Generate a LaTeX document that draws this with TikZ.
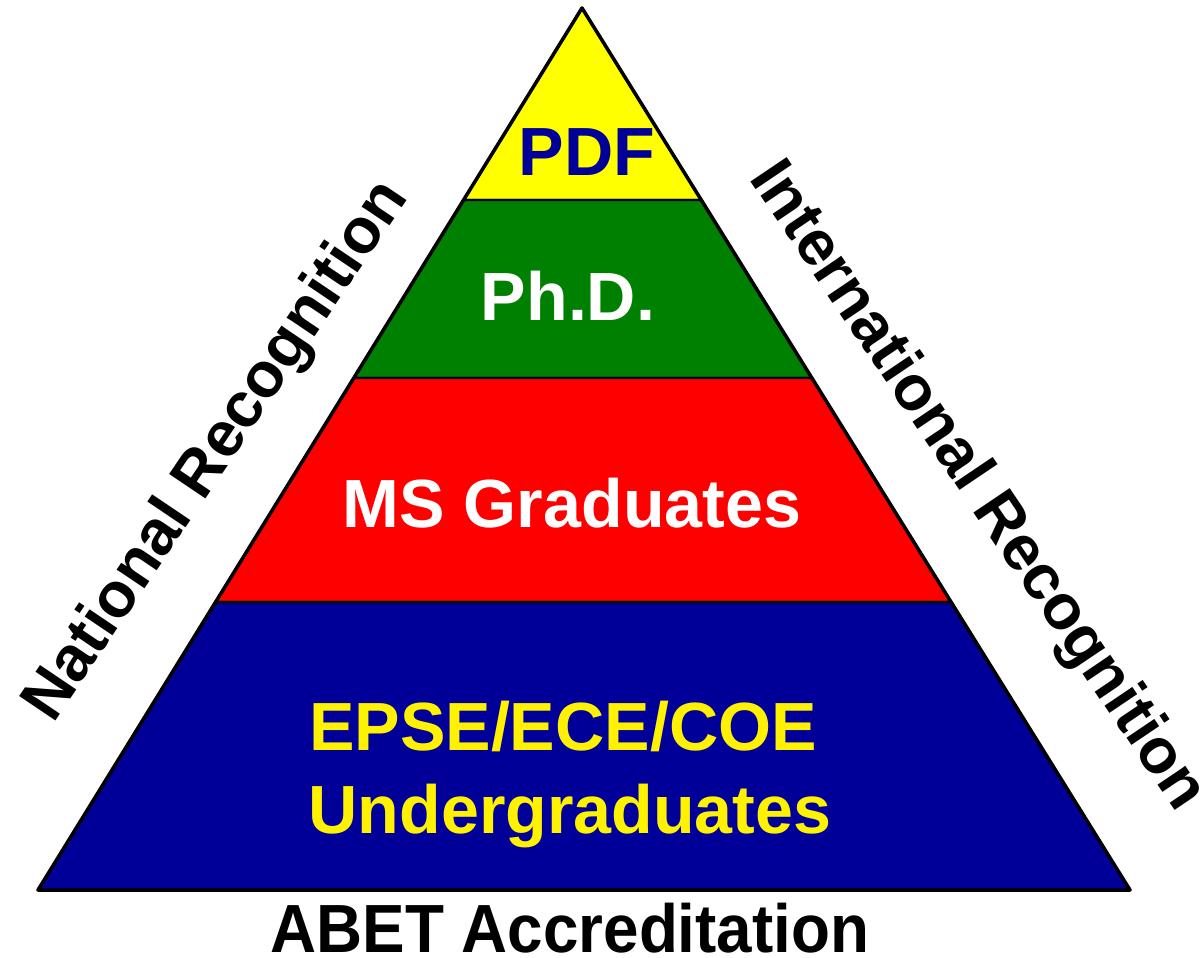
\documentclass[tikz,border=0pt]{standalone}
\usepackage{fontspec}
\setmainfont{Liberation Sans}
\usetikzlibrary{calc}
\definecolor{pdfyellow}{RGB}{255,255,0}
\definecolor{phdgreen}{RGB}{0,128,0}
\definecolor{msred}{RGB}{255,0,0}
\definecolor{ugblue}{RGB}{0,0,153}

\begin{document}
\begin{tikzpicture}[
    tier/.style={draw=black,line width=0.7pt,line join=round},
    lbl/.style={font=\fontsize{19.4}{23}\selectfont\bfseries,inner sep=0pt,anchor=base},
    sidelbl/.style={font=\fontsize{18.1}{22}\selectfont\bfseries,inner sep=0pt,anchor=base}
  ]
  \useasboundingbox (0,0) rectangle (12,9.57);
  % corners of the pyramid
  \coordinate (apex) at (5.82,9.49);
  \coordinate (bl) at (0.38,0.67);
  \coordinate (br) at (11.30,0.67);
  % tier boundaries
  \coordinate (l1) at ($(apex)!0.2177!(bl)$);
  \coordinate (r1) at ($(apex)!0.2177!(br)$);
  \coordinate (l2) at ($(apex)!0.4195!(bl)$);
  \coordinate (r2) at ($(apex)!0.4195!(br)$);
  \coordinate (l3) at ($(apex)!0.6735!(bl)$);
  \coordinate (r3) at ($(apex)!0.6735!(br)$);
  % tiers
  \filldraw[tier,fill=pdfyellow] (apex) -- (l1) -- (r1) -- cycle;
  \filldraw[tier,fill=phdgreen] (l1) -- (l2) -- (r2) -- (r1) -- cycle;
  \filldraw[tier,fill=msred] (l2) -- (l3) -- (r3) -- (r2) -- cycle;
  \filldraw[tier,fill=ugblue] (l3) -- (bl) -- (br) -- (r3) -- cycle;
  \draw[line width=1pt,line join=round] (apex) -- (bl) -- (br) -- cycle;
  % tier labels
  \node[lbl,ugblue] (pdf) at (5.87,7.82) {PDF};
  \node[lbl,white] (phd) at (5.68,6.37) {Ph.D.};
  \node[lbl,white] (ms) at (5.72,4.30) {MS Graduates};
  \node[lbl,yellow] (epse) at (5.63,2.07) {EPSE/ECE/COE};
  \node[lbl,yellow] (ugrad) at (5.70,1.24) {Undergraduates};
  % side and base labels
  \node[sidelbl,rotate=56] (national) at (2.31,4.96) {National Recognition};
  \node[sidelbl,rotate=-56] (intl) at (9.63,4.61) {International Recognition};
  \node[lbl,xscale=0.935] (abet) at (5.70,0.05) {ABET Accreditation};
\end{tikzpicture}
\end{document}
